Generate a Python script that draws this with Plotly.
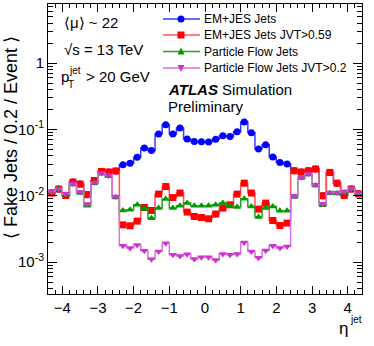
import numpy as np
import plotly.graph_objects as go

# eta bins: 0.2 wide from -4.4 to 4.4
eta_edges = np.round(np.arange(-4.4, 4.41, 0.2), 1)
eta_centers = np.round(eta_edges[:-1] + 0.1, 1)

em_jes = [0.0110, 0.0126, 0.0101, 0.0161, 0.0150, 0.0104, 0.0170, 0.0233, 0.0228, 0.0236,
          0.0294, 0.0309, 0.0381, 0.0524, 0.0482, 0.0855, 0.1178, 0.0852, 0.1050, 0.0716,
          0.0659, 0.0652, 0.0646, 0.0712, 0.0803, 0.0784, 0.0923, 0.1293, 0.0892, 0.0506,
          0.0588, 0.0383, 0.0318, 0.0301,
          0.0238, 0.0228, 0.0238, 0.0253, 0.0100, 0.0225, 0.0155, 0.0101, 0.0126, 0.0107]

em_jes_jvt = [0.0110, 0.0126, 0.0101, 0.0161, 0.0150, 0.0104, 0.0170, 0.0233, 0.0228, 0.0236,
              0.00365, 0.00353, 0.00415, 0.00666, 0.0060, 0.0106, 0.0138, 0.0094, 0.0110, 0.00568,
              0.00487, 0.00471, 0.00450, 0.0053, 0.00652, 0.00732, 0.0106, 0.0155, 0.0110, 0.0063,
              0.00776, 0.00424, 0.00356, 0.00388,
              0.0238, 0.0228, 0.0238, 0.0253, 0.0100, 0.0225, 0.0155, 0.0101, 0.0126, 0.0107]

pflow = [0.0113, 0.0125, 0.0104, 0.0148, 0.0110, 0.0071, 0.0155, 0.0214, 0.0197, 0.0094,
         0.0060, 0.00615, 0.00732, 0.0063, 0.00458, 0.00652, 0.00892, 0.00652, 0.00707, 0.00776,
         0.00707, 0.00707, 0.00707, 0.00732, 0.00776, 0.00707, 0.00675, 0.00901, 0.0069, 0.00477,
         0.00652, 0.0069, 0.00594, 0.00594,
         0.0096, 0.0186, 0.0210, 0.0143, 0.0072, 0.0109, 0.0108, 0.0112, 0.0126, 0.0106]

pflow_jvt = [0.0116, 0.0128, 0.0107, 0.0152, 0.0114, 0.0075, 0.0159, 0.0220, 0.0202, 0.00976,
             0.00176, 0.00163, 0.00182, 0.00148, 0.00111, 0.00145, 0.00193, 0.00129, 0.00124, 0.00132,
             0.00112, 0.00119, 0.00119, 0.00108, 0.00133, 0.00129, 0.00133, 0.00198, 0.00145, 0.00116,
             0.0015, 0.00176, 0.00163, 0.00172,
             0.0100, 0.0191, 0.0215, 0.0147, 0.00757, 0.0112, 0.0112, 0.0116, 0.0129, 0.0110]

series = [
    ("EM+JES Jets", em_jes, "#0000ff", "#3a3aff", "circle"),
    ("EM+JES Jets JVT>0.59", em_jes_jvt, "#ff0000", "#ff5555", "square"),
    ("Particle Flow Jets", pflow, "#009900", "#22a322", "triangle-up"),
    ("Particle Flow Jets JVT>0.2", pflow_jvt, "#cc33cc", "#dd70dd", "triangle-down"),
]

FONT = "Liberation Sans"
W, H = 374, 346
L, R, T, B = 48, 362, 4, 294


def px_x(p):
    return (p - L) / (R - L)


def px_y(p):
    return (B - p) / (B - T)


fig = go.Figure()
for name, vals, mcol, lcol, sym in series:
    fig.add_trace(go.Scatter(
        x=eta_edges, y=list(vals) + [vals[-1]], mode="lines", line_shape="hv",
        line=dict(color=lcol, width=1.5), showlegend=False, hoverinfo="skip"))
    fig.add_trace(go.Scatter(
        x=eta_centers, y=vals, mode="markers", name=name, showlegend=False,
        marker=dict(color=mcol, symbol=sym, size=7, line=dict(width=0))))

shapes = []
annotations = []
leg_y = [19, 35, 51.5, 68]
for (name, vals, mcol, lcol, sym), yy in zip(series, leg_y):
    shapes.append(dict(type="line", xref="paper", yref="paper",
                       x0=px_x(163), x1=px_x(200), y0=px_y(yy), y1=px_y(yy),
                       line=dict(color=lcol, width=1.5)))
    cx, r = 181, 3.5
    if sym == "circle":
        shapes.append(dict(type="circle", xref="paper", yref="paper",
                           x0=px_x(cx - r), x1=px_x(cx + r), y0=px_y(yy + r), y1=px_y(yy - r),
                           fillcolor=mcol, line=dict(width=0)))
    elif sym == "square":
        shapes.append(dict(type="rect", xref="paper", yref="paper",
                           x0=px_x(cx - r), x1=px_x(cx + r), y0=px_y(yy + r), y1=px_y(yy - r),
                           fillcolor=mcol, line=dict(width=0)))
    else:
        if sym == "triangle-up":
            pts = [(cx - r, yy + 3), (cx + r, yy + 3), (cx, yy - 4)]
        else:
            pts = [(cx - r, yy - 3), (cx + r, yy - 3), (cx, yy + 4)]
        path = "M " + " L ".join(f"{px_x(a):.5f},{px_y(b):.5f}" for a, b in pts) + " Z"
        shapes.append(dict(type="path", xref="paper", yref="paper", path=path,
                           fillcolor=mcol, line=dict(width=0)))
    annotations.append(dict(text=name, xref="paper", yref="paper", x=px_x(202), y=px_y(yy),
                            xanchor="left", yanchor="middle", showarrow=False,
                            font=dict(family=FONT, size=12, color="black")))


def note(text, x, y, size=15, xanchor="left", **kw):
    annotations.append(dict(text=text, xref="paper", yref="paper", x=px_x(x), y=px_y(y),
                            xanchor=xanchor, yanchor="middle", showarrow=False,
                            font=dict(family=FONT, size=size, color="black"), **kw))


note("⟨μ⟩ ~ 22", 62, 22)
note("√s = 13 TeV", 62, 50)
note("p", 59, 77)
note("jet", 67, 70, size=10)
note("T", 66, 84, size=10)
note("> 20 GeV", 84, 77)
note("<b><i>ATLAS</i></b> Simulation", 166, 89)
note("Preliminary", 166, 106)
note("⟨ Fake Jets / 0.2 / Event ⟩", 11, 138, size=18, textangle=-90, xanchor="center")
note("η", 350, 328, size=17, xanchor="right")
note("jet", 364, 319, size=10, xanchor="right")

fig.update_layout(
    width=W, height=H,
    margin=dict(l=L, r=W - R, t=T, b=H - B),
    plot_bgcolor="white", paper_bgcolor="white",
    font=dict(family=FONT, color="black"),
    shapes=shapes, annotations=annotations,
    xaxis=dict(range=[-4.4, 4.4], tickvals=[-4, -3, -2, -1, 0, 1, 2, 3, 4],
               ticks="inside", ticklen=8, tickcolor="black", showgrid=False,
               zeroline=False, showline=True, linecolor="black", linewidth=1,
               mirror="allticks", tickfont=dict(family=FONT, size=15),
               minor=dict(dtick=0.2, tick0=0, ticks="inside", ticklen=4, tickcolor="black")),
    yaxis=dict(type="log", range=[-3.48, 0.89],
               tickvals=[1e-3, 1e-2, 1e-1, 1],
               ticktext=["10<sup>-3</sup>", "10<sup>-2</sup>", "10<sup>-1</sup>", "1"],
               ticks="inside", ticklen=9, tickcolor="black", showgrid=False,
               zeroline=False, showline=True, linecolor="black", linewidth=1,
               mirror="allticks", tickfont=dict(family=FONT, size=15),
               minor=dict(dtick="D1", ticks="inside", ticklen=5, tickcolor="black")),
)

fig.write_html("out.html", config={"displayModeBar": False},
               post_script="document.body.style.margin='0';")
